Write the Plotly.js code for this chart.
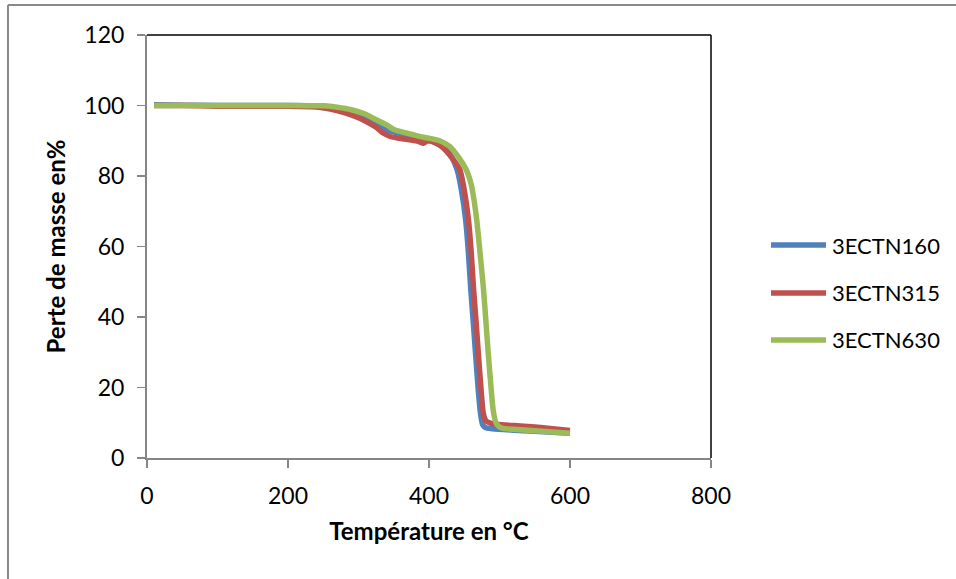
<!DOCTYPE html>
<html>
<head>
<meta charset="utf-8">
<script src="https://cdn.plot.ly/plotly-3.0.1.min.js"></script>
<style>html,body{margin:0;padding:0;background:#fff;}#chart{width:956px;height:579px;}</style>
</head>
<body>
<div id="chart"></div>
<script>
// Series names
const seriesNames = ["3ECTN160", "3ECTN315", "3ECTN630"];

// 3ECTN160
const tempBlue = [10, 50, 100, 150, 200, 240, 260, 280, 300, 315, 330, 340, 350, 360, 375, 390, 405, 415, 425, 432, 440, 446, 452, 456, 459, 463, 466, 470, 473, 476, 480, 490, 520, 550, 575, 600];
const massBlue = [100.2, 100.1, 100, 100, 100, 99.9, 99.5, 98.8, 97.5, 96.3, 94.5, 93.2, 92.5, 92.0, 91.2, 90.5, 89.8, 88.8, 87.5, 85.5, 81.7, 76, 67.5, 58, 48.6, 38, 29.7, 19, 12.7, 9.5, 8.6, 8.3, 7.9, 7.6, 7.3, 7.0];

// 3ECTN315
const tempRed = [10, 50, 100, 150, 200, 240, 260, 280, 300, 315, 325, 335, 345, 355, 365, 375, 385, 392, 398, 406, 415, 425, 435, 444, 450, 456, 460, 463, 467, 470, 474, 477, 481, 487, 496, 520, 550, 575, 600];
const massRed = [100, 100, 99.8, 99.8, 99.8, 99.6, 99, 98, 96.5, 95, 93.8, 92.2, 91.2, 90.8, 90.5, 90.2, 89.8, 89.3, 90, 89.7, 88.8, 87, 84.5, 81.7, 76, 67.5, 58, 48.6, 38, 29.7, 19, 12.7, 10.5, 9.9, 9.6, 9.2, 8.8, 8.3, 7.8];

// 3ECTN630
const tempGreen = [10, 50, 100, 150, 200, 250, 270, 290, 310, 321, 340, 350, 360, 368, 385, 400, 415, 425, 430, 435, 443, 453, 460, 464, 468, 472, 477, 481, 484, 488, 491, 495, 500, 505, 530, 560, 600];
const massGreen = [100, 100, 100, 100, 100, 99.9, 99.5, 98.8, 97.5, 96.4, 94.5, 93.2, 92.6, 92.2, 91.3, 90.7, 90.0, 89.0, 88.3, 87.2, 85, 81.7, 77.5, 73, 67, 59, 48.6, 38, 29.7, 20, 13.6, 10, 8.8, 8.4, 8.0, 7.6, 7.0];

const xTicks = [0, 200, 400, 600, 800];
const yTicks = [0, 20, 40, 60, 80, 100, 120];

const colors = ["#4F81BD", "#C0504D", "#9BBB59"];
const font = "Lato, 'Open Sans', sans-serif";

function tr(x, y, i) {
  return {x: x, y: y, name: seriesNames[i], type: "scatter", mode: "lines",
    showlegend: false,
    line: {color: colors[i], width: 5.5, shape: "spline", smoothing: 0.5}};
}

const data = [tr(tempBlue, massBlue, 0), tr(tempRed, massRed, 1), tr(tempGreen, massGreen, 2)];

// legend drawn as paper-referenced line samples and labels
const legendY = [0.5035, 0.3901, 0.279];
const legendShapes = seriesNames.map((n, i) => ({type: "line", xref: "paper", yref: "paper",
  x0: 1.1064, x1: 1.2039, y0: legendY[i], y1: legendY[i],
  line: {color: colors[i], width: 5.5}}));
const legendAnn = seriesNames.map((n, i) => ({xref: "paper", yref: "paper", x: 1.211, y: legendY[i],
  xanchor: "left", yanchor: "middle", text: n, showarrow: false,
  font: {family: font, size: 22, color: "#000"}}));

const layout = {
  width: 956, height: 579,
  margin: {l: 147, r: 245, t: 35, b: 121},
  paper_bgcolor: "#fff", plot_bgcolor: "#fff",
  font: {family: font, size: 22, color: "#000"},
  showlegend: false,
  xaxis: {range: [0, 800], tickvals: xTicks, ticktext: xTicks.map(String),
    showgrid: false, zeroline: false, showline: true, linecolor: "#868686", linewidth: 2,
    ticks: "outside", ticklen: 8, tickcolor: "#868686", tickwidth: 1.5,
    ticklabelstandoff: 8,
    tickfont: {family: font, size: 23},
    title: {text: "<b>Température en °C</b>", font: {family: font, size: 24}, standoff: 16}},
  yaxis: {range: [0, 120], tickvals: yTicks, ticktext: yTicks.map(String),
    showgrid: false, zeroline: false, showline: true, linecolor: "#868686", linewidth: 2,
    ticks: "outside", ticklen: 8, tickcolor: "#868686", tickwidth: 1.5,
    ticklabelstandoff: 8,
    tickfont: {family: font, size: 23},
    title: {text: "<b>Perte de masse en%</b>", font: {family: font, size: 24}, standoff: 12}},
  annotations: legendAnn,
  shapes: [
    {type: "line", xref: "paper", yref: "paper", x0: 0, x1: 1, y0: 1, y1: 1, line: {color: "#000", width: 1.5}},
    {type: "line", xref: "paper", yref: "paper", x0: 1, x1: 1, y0: 0, y1: 1, line: {color: "#000", width: 1.5}},
    {type: "line", xref: "paper", yref: "paper", x0: -0.2465, x1: 1.45, y0: 1.0709, y1: 1.0709, line: {color: "#898989", width: 2}},
    {type: "line", xref: "paper", yref: "paper", x0: -0.2465, x1: -0.2465, y0: 1.0709, y1: -0.31, line: {color: "#898989", width: 2}}
  ].concat(legendShapes)
};

Plotly.newPlot("chart", data, layout, {displayModeBar: false, staticPlot: true});
</script>
</body>
</html>
